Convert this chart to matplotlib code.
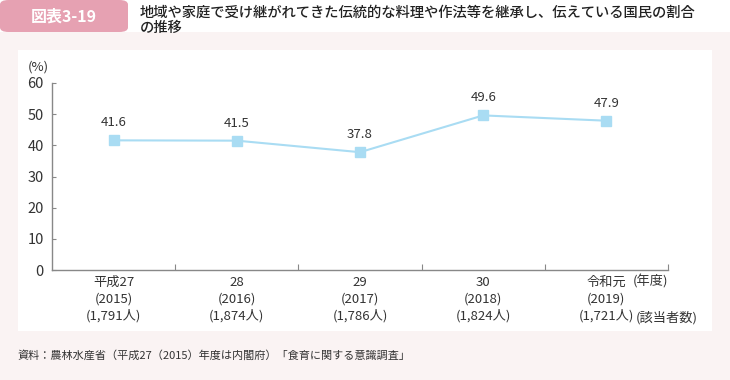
import numpy as np
import matplotlib.pyplot as plt
from matplotlib.patches import Rectangle, FancyBboxPatch

plt.rcParams['font.family'] = ['Noto Sans CJK JP', 'DejaVu Sans']

# data
years = ['平成27\n(2015)\n(1,791人)', '28\n(2016)\n(1,874人)', '29\n(2017)\n(1,786人)',
         '30\n(2018)\n(1,824人)', '令和元\n(2019)\n(1,721人)']
rates = [41.6, 41.5, 37.8, 49.6, 47.9]
yticks = [0, 10, 20, 30, 40, 50, 60]

line_c = '#a9dcf3'
txt_c = '#333333'

fig = plt.figure(figsize=(7.3, 3.8), dpi=100)
fig.patch.set_facecolor('white')
# page background and white panel
fig.add_artist(Rectangle((0, 0), 1, 1 - 32/380, transform=fig.transFigure, fc='#faf3f3', ec='none', zorder=-3))
fig.add_artist(Rectangle((18/730, 1 - 331/380), (712-18)/730, (331-50)/380, transform=fig.transFigure,
                         fc='white', ec='none', zorder=-2))
# header box
fig.add_artist(FancyBboxPatch((0, 1 - 32/380), 128/730, 32/380, boxstyle='round,pad=0,rounding_size=0.012',
                              transform=fig.transFigure, fc='#e6a1b2', ec='none', zorder=-1))
fig.text(64/730, 1 - 17/380, '図表3-19', color='white', fontsize=11.5, fontweight='bold', ha='center', va='center')
fig.text(140/730, 1 - 13/380, '地域や家庭で受け継がれてきた伝統的な料理や作法等を継承し、伝えている国民の割合',
         color='#222222', fontsize=10.3, fontweight='medium', ha='left', va='center')
fig.text(140/730, 1 - 28/380, 'の推移', color='#222222', fontsize=10.3, fontweight='medium', ha='left', va='center')

ax = fig.add_axes([52/730, 1 - 270/380, (668-52)/730, (270-83)/380])
ax.set_facecolor('none')
x = np.arange(len(rates))
ax.plot(x, rates, color=line_c, lw=1.5, marker='s', ms=7, mfc=line_c, mec=line_c, clip_on=False)
for xi, v in zip(x, rates):
    ax.annotate(f'{v}', (xi, v), xytext=(0, 8), textcoords='offset points', ha='center', va='bottom',
                fontsize=9.5, color=txt_c)

ax.set_xlim(-0.5, len(rates) - 0.5)
ax.set_ylim(0, 60)
ax.set_yticks(yticks)
ax.tick_params(axis='y', direction='in', length=3, color='#888888', labelsize=10.5, labelcolor=txt_c, pad=6)
ax.set_xticks(x + 0.5)
ax.set_xticklabels([])
ax.set_xticks(x, minor=True)
ax.set_xticklabels(years, minor=True, fontsize=9.5, color=txt_c, linespacing=1.38)
ax.tick_params(axis='x', which='major', direction='in', length=4, color='#888888')
ax.tick_params(axis='x', which='minor', length=0, pad=4)
for s in ['top', 'right']:
    ax.spines[s].set_visible(False)
for s in ['left', 'bottom']:
    ax.spines[s].set_color('#888888')
    ax.spines[s].set_linewidth(1)

# extras on the last category label
ax.annotate('(年度)', (x[-1], 0), xycoords=('data', 'axes fraction'), xytext=(19, -8.5),
            textcoords='offset points', ha='left', va='center', fontsize=9.5, color=txt_c)
ax.annotate('(該当者数)', (x[-1], 0), xycoords=('data', 'axes fraction'), xytext=(21, -34.5),
            textcoords='offset points', ha='left', va='center', fontsize=9.5, color=txt_c)

ax.text(-0.039, 1.088, '(%)', transform=ax.transAxes, ha='left', va='center', fontsize=9.5, color=txt_c)

fig.text(18/730, 1 - 355/380, '資料：農林水産省（平成27（2015）年度は内閣府）「食育に関する意識調査」',
         fontsize=8, color='#333333', ha='left', va='center')

fig.savefig('out.png', dpi=100, facecolor=fig.get_facecolor())
